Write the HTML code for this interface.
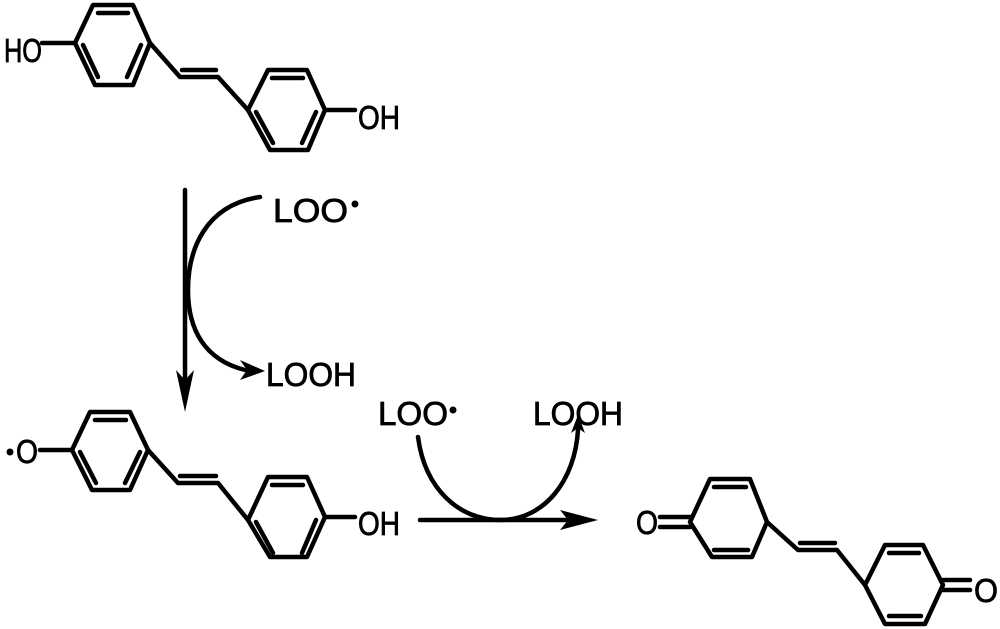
<!DOCTYPE html>
<html><head><meta charset="utf-8"><style>
html,body{margin:0;padding:0;background:#fff;}
svg{display:block}
text{font-family:"Liberation Sans",sans-serif;font-size:33px;fill:#000;stroke:#000;stroke-width:0.8px;}
</style></head><body>
<svg width="1000" height="629" viewBox="0 0 1000 629" xmlns="http://www.w3.org/2000/svg">
<g stroke="#000" stroke-width="4.5" fill="none" stroke-linejoin="round" stroke-linecap="round">
<polygon points="75,43 93,5 133,5 150,43 133,85 95,85"/>
<line x1="98" y1="13" x2="128" y2="13"/>
<line x1="83" y1="45" x2="98" y2="77"/>
<line x1="141" y1="45" x2="127" y2="77"/>
<line x1="42" y1="43" x2="75" y2="43"/>
<polyline points="150,43 180,77 218,77 248,110"/>
<line x1="182" y1="70" x2="216" y2="70"/>
<polygon points="248,110 268,70 307,70 325,110 308,150 270,150"/>
<line x1="272" y1="78" x2="303" y2="78"/>
<line x1="256" y1="112" x2="273" y2="143"/>
<line x1="316" y1="112" x2="302" y2="143"/>
<line x1="325" y1="110" x2="355" y2="110"/>
<polygon points="72,450 90,412 130,412 148,450 130,490 92,490"/>
<line x1="95" y1="420" x2="126" y2="420"/>
<line x1="80" y1="452" x2="96" y2="483"/>
<line x1="140" y1="452" x2="125" y2="483"/>
<line x1="40" y1="450" x2="72" y2="450"/>
<polyline points="148,450 178,483 218,483 248,520"/>
<line x1="180" y1="476" x2="216" y2="476"/>
<polygon points="248,520 268,477 307,477 325,517 307,557 270,557"/>
<line x1="272" y1="485" x2="303" y2="485"/>
<line x1="256" y1="522" x2="273" y2="553"/>
<line x1="316" y1="520" x2="302" y2="553"/>
<line x1="325" y1="517" x2="355" y2="517"/>
<polygon points="690,522 710,479 750,479 767,522 752,557 712,557"/>
<line x1="714" y1="487" x2="746" y2="487"/>
<line x1="714" y1="550" x2="748" y2="550"/>
<line x1="660" y1="517" x2="690" y2="517"/>
<line x1="660" y1="527" x2="690" y2="527"/>
<polyline points="767,522 798,550 837,550 865,585"/>
<line x1="800" y1="543" x2="835" y2="543"/>
<polygon points="865,585 885,545 923,545 943,585 925,624 885,624"/>
<line x1="889" y1="553" x2="919" y2="553"/>
<line x1="889" y1="616" x2="921" y2="616"/>
<line x1="943" y1="580" x2="970" y2="580"/>
<line x1="943" y1="590" x2="970" y2="590"/>
<line x1="185" y1="190" x2="185" y2="390"/>
<path d="M260,197 C205,205 188,250 188,290 C188,330 205,360 245,370"/>
<line x1="420" y1="520" x2="570" y2="520"/>
<path d="M418,437 C425,490 460,520 500,520 C545,520 575,480 578,430"/>
</g>
<g fill="#000">
<polygon points="176,370 185,412 194,370 185,380"/>
<polygon points="240,360 265,371 240,380 247,370"/>
<polygon points="560,510 598,520 560,530 568,520"/>
<polygon points="571,433 578,415 585,433 578,428"/>
<circle cx="355" cy="204" r="3.5"/>
<circle cx="453" cy="410" r="3.5"/>
<circle cx="10" cy="452" r="3.5"/>
</g>
<text x="4" y="62" textLength="38" lengthAdjust="spacingAndGlyphs">HO</text>
<text x="358" y="129" textLength="42" lengthAdjust="spacingAndGlyphs">OH</text>
<text x="16" y="463" textLength="22" lengthAdjust="spacingAndGlyphs">O</text>
<text x="358" y="535" textLength="42" lengthAdjust="spacingAndGlyphs">OH</text>
<text x="636" y="534" textLength="22" lengthAdjust="spacingAndGlyphs">O</text>
<text x="974" y="602" textLength="24" lengthAdjust="spacingAndGlyphs">O</text>
<text x="273" y="222" textLength="75" lengthAdjust="spacingAndGlyphs">LOO</text>
<text x="266" y="386" textLength="90" lengthAdjust="spacingAndGlyphs">LOOH</text>
<text x="378" y="425" textLength="70" lengthAdjust="spacingAndGlyphs">LOO</text>
<text x="533" y="425" textLength="90" lengthAdjust="spacingAndGlyphs">LOOH</text>
</svg>
</body></html>
